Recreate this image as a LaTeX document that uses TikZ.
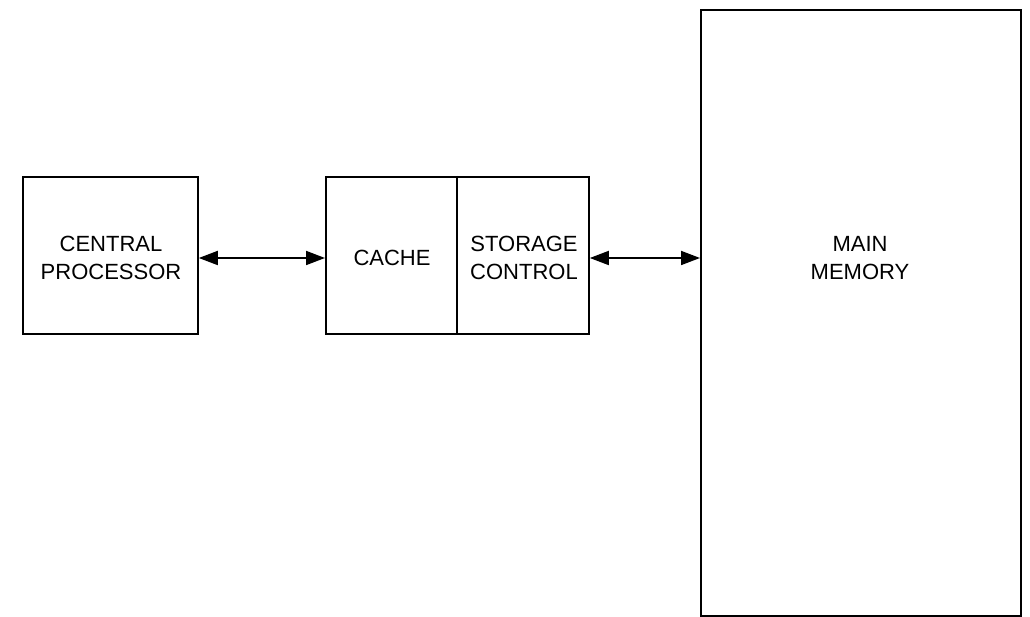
\documentclass[tikz,border=0pt]{standalone}
\usepackage{fontspec}
\setmainfont{Liberation Sans}
\usetikzlibrary{arrows.meta}
\begin{document}
\begin{tikzpicture}[x=1pt,y=-1pt,
  unit/.style={draw=black,line width=1.8pt,inner sep=0pt,anchor=north west},
  lbl/.style={font=\fontsize{22}{28}\selectfont,align=center,text=black},
  tip/.tip={Triangle[length=19pt,width=14pt]},
  link/.style={line width=1.8pt,tip-tip}]
  \useasboundingbox (0,0) rectangle (1030,617);
  % processor
  \node[unit,minimum width=175pt,minimum height=157pt] (cp) at (22,176) {};
  \node[lbl] (cpt) at (111,258) {CENTRAL\\PROCESSOR};
  % cache + storage control block
  \node[unit,minimum width=263pt,minimum height=157pt] (cs) at (325,176) {};
  \coordinate (divt) at (457,176);
  \coordinate (divb) at (457,333);
  \draw[line width=1.8pt] (divt) -- (divb);
  \node[lbl] (cache) at (392,258) {CACHE};
  \node[lbl] (sc) at (524,258) {STORAGE\\CONTROL};
  % main memory
  \node[unit,minimum width=320pt,minimum height=606pt] (mm) at (700,9) {};
  \node[lbl] (mmt) at (860,258) {MAIN\\MEMORY};
  % connections run at the level of the text
  \coordinate (lvl) at (0,258);
  \draw[link] (cp.east |- lvl) -- (cs.west |- lvl);
  \draw[link] (cs.east |- lvl) -- (mm.west |- lvl);
\end{tikzpicture}
\end{document}
